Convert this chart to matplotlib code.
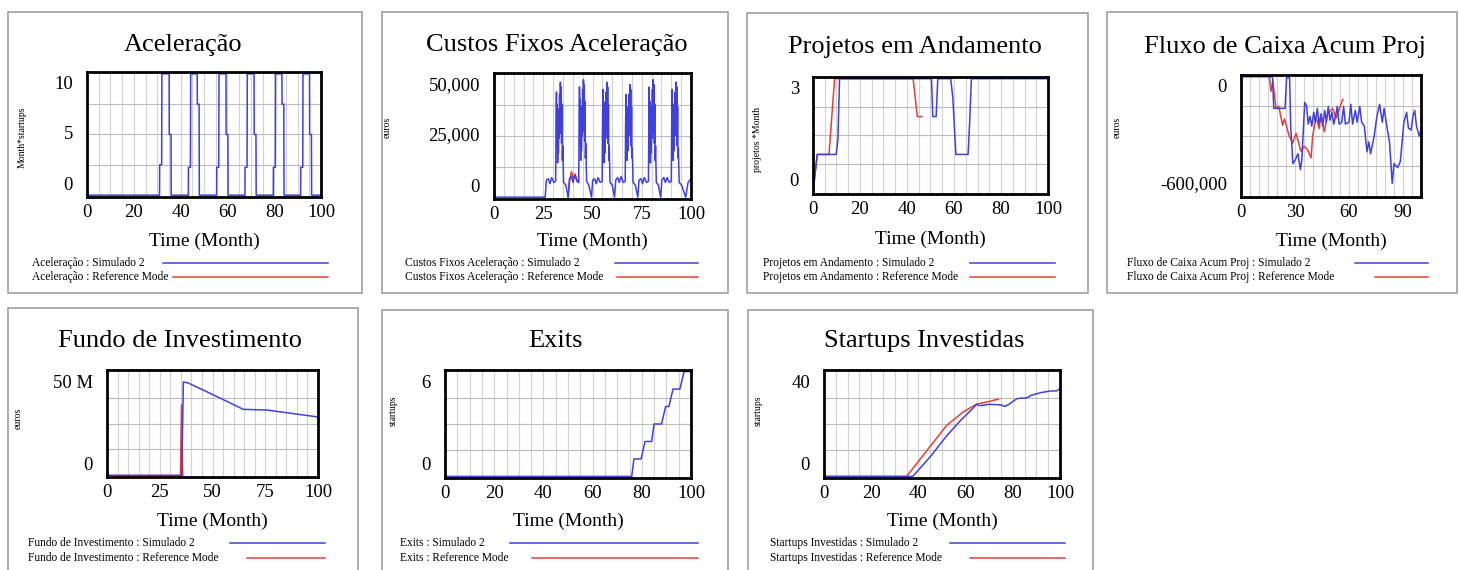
import matplotlib.pyplot as plt
from matplotlib.lines import Line2D
from matplotlib.patches import Rectangle

plt.rcParams['font.family'] = ['Liberation Serif', 'DejaVu Serif']

W, H = 1459, 570

# ---------------- series (Time in months) ----------------
# Aceleracao : Simulado 2
acel_t = [0, 31.0, 31.05, 31.9, 32.0, 35.1, 35.15, 35.9, 36.0,
          43.3, 43.35, 44.2, 44.3, 47.1, 47.15, 47.9, 48.0,
          55.4, 55.45, 56.3, 56.4, 59.4, 59.45, 60.2, 60.3,
          67.5, 67.55, 68.4, 68.5, 71.4, 71.45, 72.2, 72.3,
          79.6, 79.65, 80.5, 80.6, 83.3, 83.35, 84.1, 84.2,
          91.3, 91.35, 92.2, 92.3, 95.1, 95.15, 95.9, 96.0, 100]
acel_sim = [0, 0, 2.5, 2.5, 10, 10, 5, 5, 0,
            0, 2.3, 2.3, 10, 10, 7.5, 7.5, 0,
            0, 2.3, 2.3, 10, 10, 5, 5, 0,
            0, 2.3, 2.3, 10, 10, 5, 5, 0,
            0, 2.3, 2.3, 10, 10, 7.5, 7.5, 0,
            0, 2.3, 2.3, 10, 10, 5, 5, 0, 0]

# Custos Fixos Aceleracao : Simulado 2
custos_t = [0, 26.0,
            26.6, 27.6, 28.4, 29.3, 30.4, 31.3,
            31.5, 31.7, 31.9, 32.1, 32.3, 32.5, 32.7, 32.9, 33.1, 33.3, 33.5, 33.7, 33.9, 34.1, 34.3, 34.5, 34.7, 34.9,
            35.3, 36.4, 37.7,
            38.3, 39.3, 40.1, 41.0, 42.1, 43.0,
            43.2, 43.4, 43.6, 43.8, 44.0, 44.2, 44.4, 44.6, 44.8, 45.0, 45.2, 45.4, 45.6, 45.8, 46.0, 46.2, 46.4, 46.6,
            47.0, 48.1, 49.5,
            50.1, 51.1, 51.9, 52.8, 53.9, 54.9,
            55.1, 55.3, 55.5, 55.7, 55.9, 56.1, 56.3, 56.5, 56.7, 56.9, 57.1, 57.3, 57.5, 57.7, 57.9, 58.1, 58.3, 58.5,
            58.9, 60.0, 61.2,
            61.8, 62.8, 63.6, 64.5, 65.6, 66.6,
            66.8, 67.0, 67.2, 67.4, 67.6, 67.8, 68.0, 68.2, 68.4, 68.6, 68.8, 69.0, 69.2, 69.4, 69.6, 69.8, 70.0, 70.2,
            70.6, 71.7, 73.0,
            73.6, 74.6, 75.4, 76.3, 77.4, 78.4,
            78.6, 78.8, 79.0, 79.2, 79.4, 79.6, 79.8, 80.0, 80.2, 80.4, 80.6, 80.8, 81.0, 81.2, 81.4, 81.6, 81.8, 82.0,
            82.4, 83.4, 84.6,
            85.2, 86.2, 87.0, 87.9, 89.0, 90.0,
            90.2, 90.4, 90.6, 90.8, 91.0, 91.2, 91.4, 91.6, 91.8, 92.0, 92.2, 92.4, 92.6, 92.8, 93.0, 93.2, 93.4, 93.6,
            94.0, 95.2, 97.3,
            98.5, 100]
custos_sim = [0, 0,
              7000, 7500, 5500, 8000, 6000, 6500,
              30000, 43000, 20000, 38000, 14000, 33000, 18000, 36000, 24000, 42000, 26000, 47000, 32000, 45000, 22000, 38000, 15000, 21000,
              6000, 5000, 0,
              7500, 8500, 6000, 9000, 6500, 6000,
              32000, 45000, 22000, 40000, 15000, 34000, 19000, 37000, 25000, 44000, 27000, 48000, 33000, 46000, 23000, 39000, 16000, 22000,
              6500, 5000, 0,
              7000, 7500, 5500, 8000, 6000, 6500,
              31000, 44000, 21000, 39000, 14000, 33000, 18000, 36000, 24000, 43000, 26000, 47000, 32000, 45000, 22000, 38000, 15000, 21000,
              6000, 5000, 0,
              7000, 8000, 6000, 8500, 6000, 6500,
              29000, 42000, 20000, 37000, 15000, 32000, 19000, 35000, 25000, 42000, 27000, 46000, 31000, 44000, 21000, 37000, 16000, 20000,
              6000, 5000, 0,
              7000, 7500, 5500, 8000, 6000, 6500,
              32000, 45000, 22000, 39000, 14000, 34000, 18000, 37000, 24000, 44000, 26000, 48000, 33000, 46000, 22000, 38000, 15000, 21000,
              6000, 5000, 0,
              7000, 8000, 6000, 8000, 6000, 6500,
              30000, 44000, 21000, 38000, 15000, 33000, 19000, 36000, 25000, 43000, 27000, 47000, 32000, 45000, 21000, 37000, 16000, 20000,
              6000, 5000, 0,
              6000, 7500]
custos_ref_t = [37.5, 38.3, 39.3, 40.3, 41.2, 42.2, 43.0]
custos_ref = [0, 6000, 10500, 7500, 9500, 7000, 6000]

# Projetos em Andamento
proj_t = [0, 1.8, 9.9, 10.6, 11.3, 50.4, 51.0, 52.4, 53.1, 58.6, 59.5, 60.8, 66.0, 66.7, 67.4, 100]
proj_sim = [0, 1, 1, 1.4, 3, 3, 2, 2, 3, 3, 2.5, 1, 1, 1.9, 3, 3]
proj_ref_t = [0, 1.8, 6.8, 9.2, 42.6, 44.4, 46.4]
proj_ref = [0, 1, 1, 3, 3, 2, 2]

# Fluxo de Caixa Acum Proj
fluxo_t = [0, 17.5, 18.2, 24.5, 25.3, 27.0, 27.6, 28.2, 28.8, 30.2, 31.6, 33.0, 33.8, 35.4,
           36.5, 37.3, 38.3, 39.3, 40.4, 41.3, 42.4, 43.4, 44.5, 45.4, 46.5, 47.4, 48.5, 49.4,
           50.5, 51.5, 52.5, 53.5, 54.5, 56.0, 57.0, 58.0, 60.0, 61.0, 62.0, 63.5, 64.5, 66.0,
           67.0, 68.5, 70.0, 71.0, 72.0, 74.0, 75.5, 77.0, 78.5, 79.5, 81.0, 82.5, 84.0, 85.0,
           87.0, 88.5, 90.5, 92.0, 93.0, 94.5, 95.5, 96.5, 97.5, 99.0, 100]
fluxo_sim = [0, 0, -160000, -160000, -5000, -5000, -250000, -340000, -440000, -420000, -390000, -470000, -420000, -130000,
             -150000, -240000, -200000, -250000, -180000, -230000, -160000, -240000, -190000, -250000, -170000, -230000, -150000, -220000,
             -180000, -240000, -200000, -150000, -240000, -230000, -150000, -240000, -230000, -140000, -240000, -170000, -230000, -150000,
             -230000, -250000, -380000, -330000, -390000, -300000, -200000, -140000, -230000, -160000, -250000, -330000, -540000, -440000,
             -460000, -430000, -230000, -180000, -260000, -270000, -200000, -170000, -250000, -300000, -270000]
fluxo_ref_t = [15.7, 16.7, 17.6, 19.4, 21.0, 23.1, 24.1, 26.9, 28.7, 30.6, 33.3, 35.2, 37.0,
               38.9, 39.8, 41.7, 43.5, 44.4, 46.3, 48.1, 50.9, 52.8, 56.5]
fluxo_ref = [0, -74000, -20000, -156000, -150000, -246000, -213000, -303000, -336000, -287000, -377000, -352000, -370000,
             -410000, -300000, -205000, -262000, -188000, -279000, -190000, -160000, -210000, -115000]

# Fundo de Investimento
fundo_t = [0, 35.4, 36.2, 38.5, 51.0, 64.6, 75.7, 85.0, 99.6, 100]
fundo_sim = [0, 0, 45e6, 44.5e6, 38.5e6, 31.8e6, 31.5e6, 30.2e6, 28.2e6, 27.6e6]
fundo_ref_t = [0, 34.8, 35.3, 35.9]
fundo_ref = [0, 0, 34e6, 0]

# Exits
exits_t = [0, 75.9, 76.8, 79.7, 81.3, 84.0, 85.0, 88.0, 89.7, 91.0, 92.7, 95.5, 97.2, 100]
exits_sim = [0, 0, 1, 1, 2, 2, 3, 3, 4, 4, 5, 5, 6, 6]

# Startups Investidas
startups_t = [0, 37.6, 45, 52, 58, 62, 64.7, 66, 70, 75, 76.5, 78, 81.8, 86, 88, 92, 96, 98.5, 100]
startups_sim = [0, 0, 7.5, 15.5, 21.5, 25, 27.5, 27, 27.5, 27.3, 26.7, 27.3, 29.7, 30, 31, 32, 32.6, 32.6, 33.5]
startups_ref_t = [0, 35, 45, 52, 59, 64.7, 70, 73.9]
startups_ref = [0, 0, 11.5, 19.5, 24.6, 27.6, 28.6, 29.5]

titles = ['Aceleração', 'Custos Fixos Aceleração', 'Projetos em Andamento', 'Fluxo de Caixa Acum Proj',
          'Fundo de Investimento', 'Exits', 'Startups Investidas']
units = ['Month*startups', 'euros', 'projetos *Month', 'euros', 'euros', 'startups', 'startups']
sims = [(acel_t, acel_sim), (custos_t, custos_sim), (proj_t, proj_sim), (fluxo_t, fluxo_sim),
        (fundo_t, fundo_sim), (exits_t, exits_sim), (startups_t, startups_sim)]
refs = [None, (custos_ref_t, custos_ref), (proj_ref_t, proj_ref), (fluxo_ref_t, fluxo_ref),
        (fundo_ref_t, fundo_ref), None, (startups_ref_t, startups_ref)]
xticks = [[0, 20, 40, 60, 80, 100], [0, 25, 50, 75, 100], [0, 20, 40, 60, 80, 100], [0, 30, 60, 90],
          [0, 25, 50, 75, 100], [0, 20, 40, 60, 80, 100], [0, 20, 40, 60, 80, 100]]
yranges = [(0, 10), (0, 50000), (0, 3), (-600000, 0), (0, 50e6), (0, 6), (0, 40)]
ylabels = [('10', '5', '0'), ('50,000', '25,000', '0'), ('3', '', '0'), ('0', '', '-600,000'),
           ('50 M', '', '0'), ('6', '', '0'), ('40', '', '0')]

# ---------------- layout in pixels (left, top, right, bottom) ----------------
frames = [(8, 12, 362, 293), (382, 12, 728, 293), (747, 13, 1088, 293), (1107, 12, 1457, 293),
          (8, 308, 358, 580), (382, 310, 728, 580), (748, 310, 1093, 580)]
plots = [(87, 72, 321, 197), (494, 73, 691, 199), (813, 77, 1048, 194), (1241, 75, 1421, 197),
         (107, 370, 318, 477), (445, 370, 691, 478), (824, 370, 1060, 478)]
title_y = [45, 45, 47, 47, 341, 341, 341]
title_x = [183, 557, 915, 1285, 180, 555, 924]
unit_xy = [(22, 137), (387, 127), (757, 139), (1117, 127), (18, 418), (393, 411), (758, 411)]
xlabel_y = [241, 241, 239, 241, 521, 521, 521]
legend_x = [32, 405, 763, 1127, 28, 400, 770]
legend_rows = [(263, 277)] * 4 + [(543, 558)] * 3
legend_lines = [(163, 167, 328), (615, 617, 698), (970, 970, 1055), (1355, 1375, 1428),
                (230, 247, 325), (510, 532, 698), (950, 970, 1065)]

BLUE = '#4040dc'
RED = '#e2403a'

fig = plt.figure(figsize=(W / 100, H / 100), dpi=100)


def fx(x):
    return x / W


def fy(y):
    return 1 - y / H


legend_texts = []
for i in range(7):
    fl, ft, fr, fb = frames[i]
    fig.add_artist(Rectangle((fx(fl), fy(fb)), (fr - fl) / W, (fb - ft) / H, transform=fig.transFigure,
                             fill=False, ec='#a0a0a0', lw=1.2))

    l, t, r, b = plots[i]
    ax = fig.add_axes([fx(l), fy(b), (r - l) / W, (b - t) / H])
    lo, hi = yranges[i]
    pad = (hi - lo) * 0.015
    ax.set_xlim(0, 100)
    ax.set_ylim(lo - pad, hi + pad)

    for gx in range(5, 100, 5):
        ax.axvline(gx, color='#d2d2d2', lw=0.8, zorder=0)
    for q in (0.25, 0.5, 0.75):
        ax.axhline(lo + (hi - lo) * q, color='#bcbcbc', lw=0.8, zorder=0)

    if refs[i] is not None:
        ax.plot(refs[i][0], refs[i][1], color=RED, lw=1.1, zorder=2)
    ax.plot(sims[i][0], sims[i][1], color=BLUE, lw=1.1, zorder=2)

    for s in ax.spines.values():
        s.set_linewidth(2.0)
        s.set_color('black')

    ax.set_xticks(xticks[i])
    ax.set_xticklabels([str(v) for v in xticks[i]])
    ax.tick_params(axis='x', length=0, pad=5, labelsize=13.5)
    ax.set_yticks([])

    top, mid, bot = ylabels[i]
    ax.annotate(top, xy=(0, 1), xycoords='axes fraction', xytext=(-14, -13), textcoords='offset pixels',
                ha='right', va='center', fontsize=13.5)
    if mid:
        ax.annotate(mid, xy=(0, 0.5), xycoords='axes fraction', xytext=(-14, 0), textcoords='offset pixels',
                    ha='right', va='center', fontsize=13.5)
    ax.annotate(bot, xy=(0, 0), xycoords='axes fraction', xytext=(-14, 12), textcoords='offset pixels',
                ha='right', va='center', fontsize=13.5)

    fig.text(fx(title_x[i]), fy(title_y[i]), titles[i], ha='center', va='center', fontsize=19)
    fig.text(fx(unit_xy[i][0]), fy(unit_xy[i][1]), units[i], ha='center', va='center',
             rotation=90, fontsize=7)
    fig.text(fx((l + r) / 2), fy(xlabel_y[i]), 'Time (Month)', ha='center', va='center', fontsize=14)

    r1, r2 = legend_rows[i]
    t1 = fig.text(fx(legend_x[i]), fy(r1), titles[i] + ' : Simulado 2', ha='left', va='center', fontsize=8.3)
    t2 = fig.text(fx(legend_x[i]), fy(r2), titles[i] + ' : Reference Mode', ha='left', va='center', fontsize=8.3)
    legend_texts.append((t1, t2))

# legend sample lines start just after their text
fig.canvas.draw()
renderer = fig.canvas.get_renderer()
for i in range(7):
    r1, r2 = legend_rows[i]
    bx, rx, ex = legend_lines[i]
    t1, t2 = legend_texts[i]
    bx = max(bx, t1.get_window_extent(renderer).x1 + 5)
    rx = max(rx, t2.get_window_extent(renderer).x1 + 5)
    fig.add_artist(Line2D([fx(bx), fx(ex)], [fy(r1), fy(r1)], color=BLUE, lw=1.1))
    fig.add_artist(Line2D([fx(rx), fx(ex)], [fy(r2), fy(r2)], color=RED, lw=1.1))

fig.savefig('out.png', dpi=100)
